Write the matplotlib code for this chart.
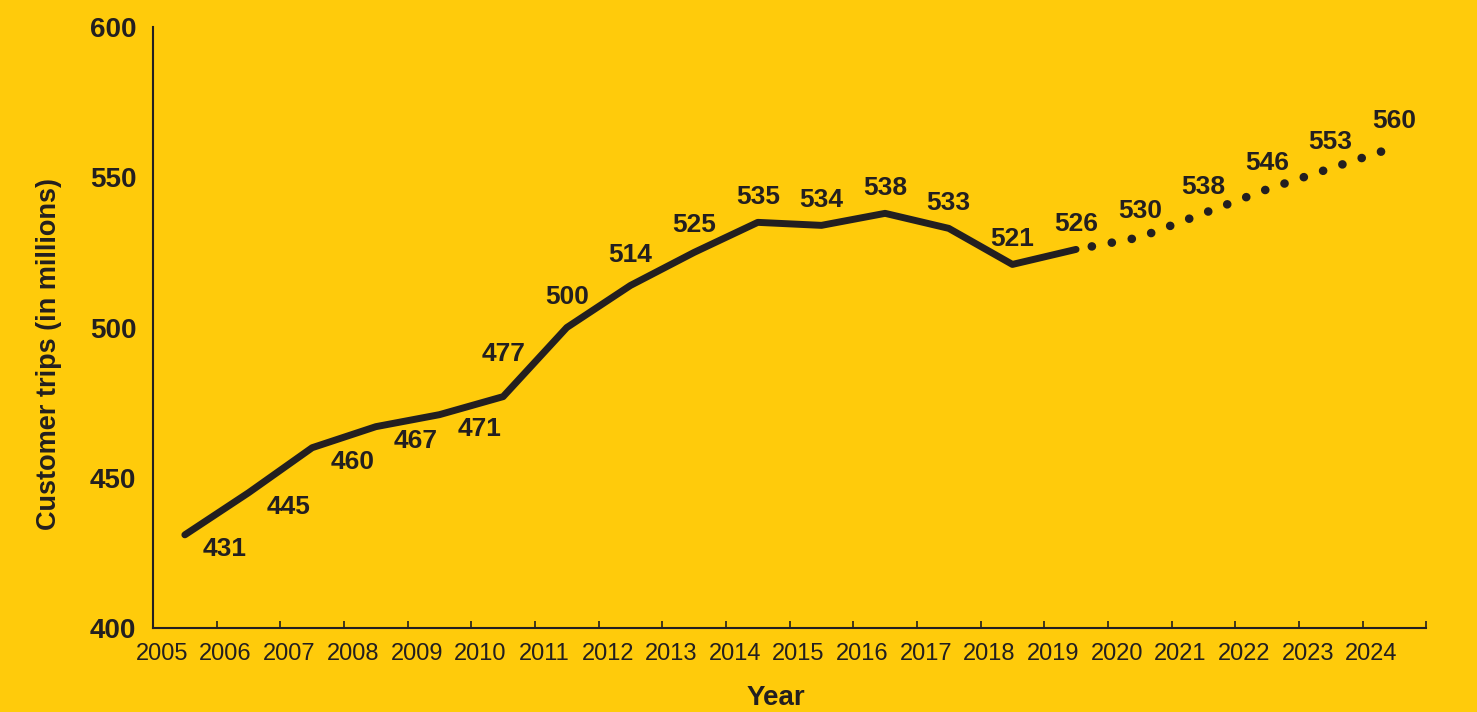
import matplotlib
matplotlib.use("Agg")
import matplotlib.pyplot as plt
from matplotlib.transforms import ScaledTranslation

plt.rcParams['font.family'] = ['Liberation Sans', 'DejaVu Sans']

# data
years_actual = [2005, 2006, 2007, 2008, 2009, 2010, 2011, 2012, 2013, 2014,
                2015, 2016, 2017, 2018, 2019]
trips_actual = [431, 445, 460, 467, 471, 477, 500, 514, 525, 535,
                534, 538, 533, 521, 526]
years_forecast = [2019, 2020, 2021, 2022, 2023, 2024]
trips_forecast = [526, 530, 538, 546, 553, 560]
tick_years = list(range(2005, 2026))

BG = '#FFCB0B'
INK = '#231f20'

fig = plt.figure(figsize=(14.77, 7.12), dpi=100, facecolor=BG)
ax = fig.add_axes([0.1036, 0.118, 0.862, 0.844])
ax.set_facecolor(BG)

xa = [y + 0.5 for y in years_actual]
xf = [y + 0.5 for y in years_forecast]

ax.plot(xa, trips_actual, color=INK, lw=5, solid_capstyle='round',
        solid_joinstyle='round', zorder=3)
ax.plot(xf, trips_forecast, color=INK, lw=6.2, linestyle=(0.5, (0.01, 2.35)),
        dash_capstyle='round', zorder=3)

# value labels
for i, (x, v) in enumerate(zip(xa, trips_actual)):
    if i < 5:
        off = (29, -10)
    else:
        dy = {5: 31, 6: 22, 7: 22, 8: 20}.get(i, 18)
        off = (0, dy)
    ax.annotate(str(v), (x, v), xytext=off, textcoords='offset points',
                ha='center', va='center', fontsize=19, fontweight='bold', color=INK)
for x, v in zip(xf[1:], trips_forecast[1:]):
    ax.annotate(str(v), (x, v), xytext=(0, 19), textcoords='offset points',
                ha='center', va='center', fontsize=19, fontweight='bold', color=INK)

ax.set_xlim(2005, 2025)
ax.set_ylim(400, 600)
ax.set_xticks(tick_years)
ax.set_xticklabels([str(y) if y < 2025 else '' for y in tick_years])
ax.set_yticks([400, 450, 500, 550, 600])

for s in ['top', 'right']:
    ax.spines[s].set_visible(False)
for s in ['left', 'bottom']:
    ax.spines[s].set_color(INK)
    ax.spines[s].set_linewidth(1.5)

ax.tick_params(axis='x', direction='in', length=5, width=1.2, color=INK,
               labelsize=17, labelcolor=INK, pad=11)
ax.tick_params(axis='y', length=0, labelsize=20, labelcolor=INK, pad=12)
for lab in ax.get_yticklabels():
    lab.set_fontweight('bold')
shift = ScaledTranslation(9 / 100, 0, fig.dpi_scale_trans)
for lab in ax.get_xticklabels():
    lab.set_transform(lab.get_transform() + shift)

ax.set_xlabel('Year', fontsize=20, fontweight='bold', color=INK)
ax.xaxis.set_label_coords(0.489, -0.095)
ax.set_ylabel('Customer trips (in millions)', fontsize=19.5, fontweight='bold',
              color=INK)
ax.yaxis.set_label_coords(-0.0715, 0.456)

fig.savefig('out.png', dpi=100, facecolor=BG)
